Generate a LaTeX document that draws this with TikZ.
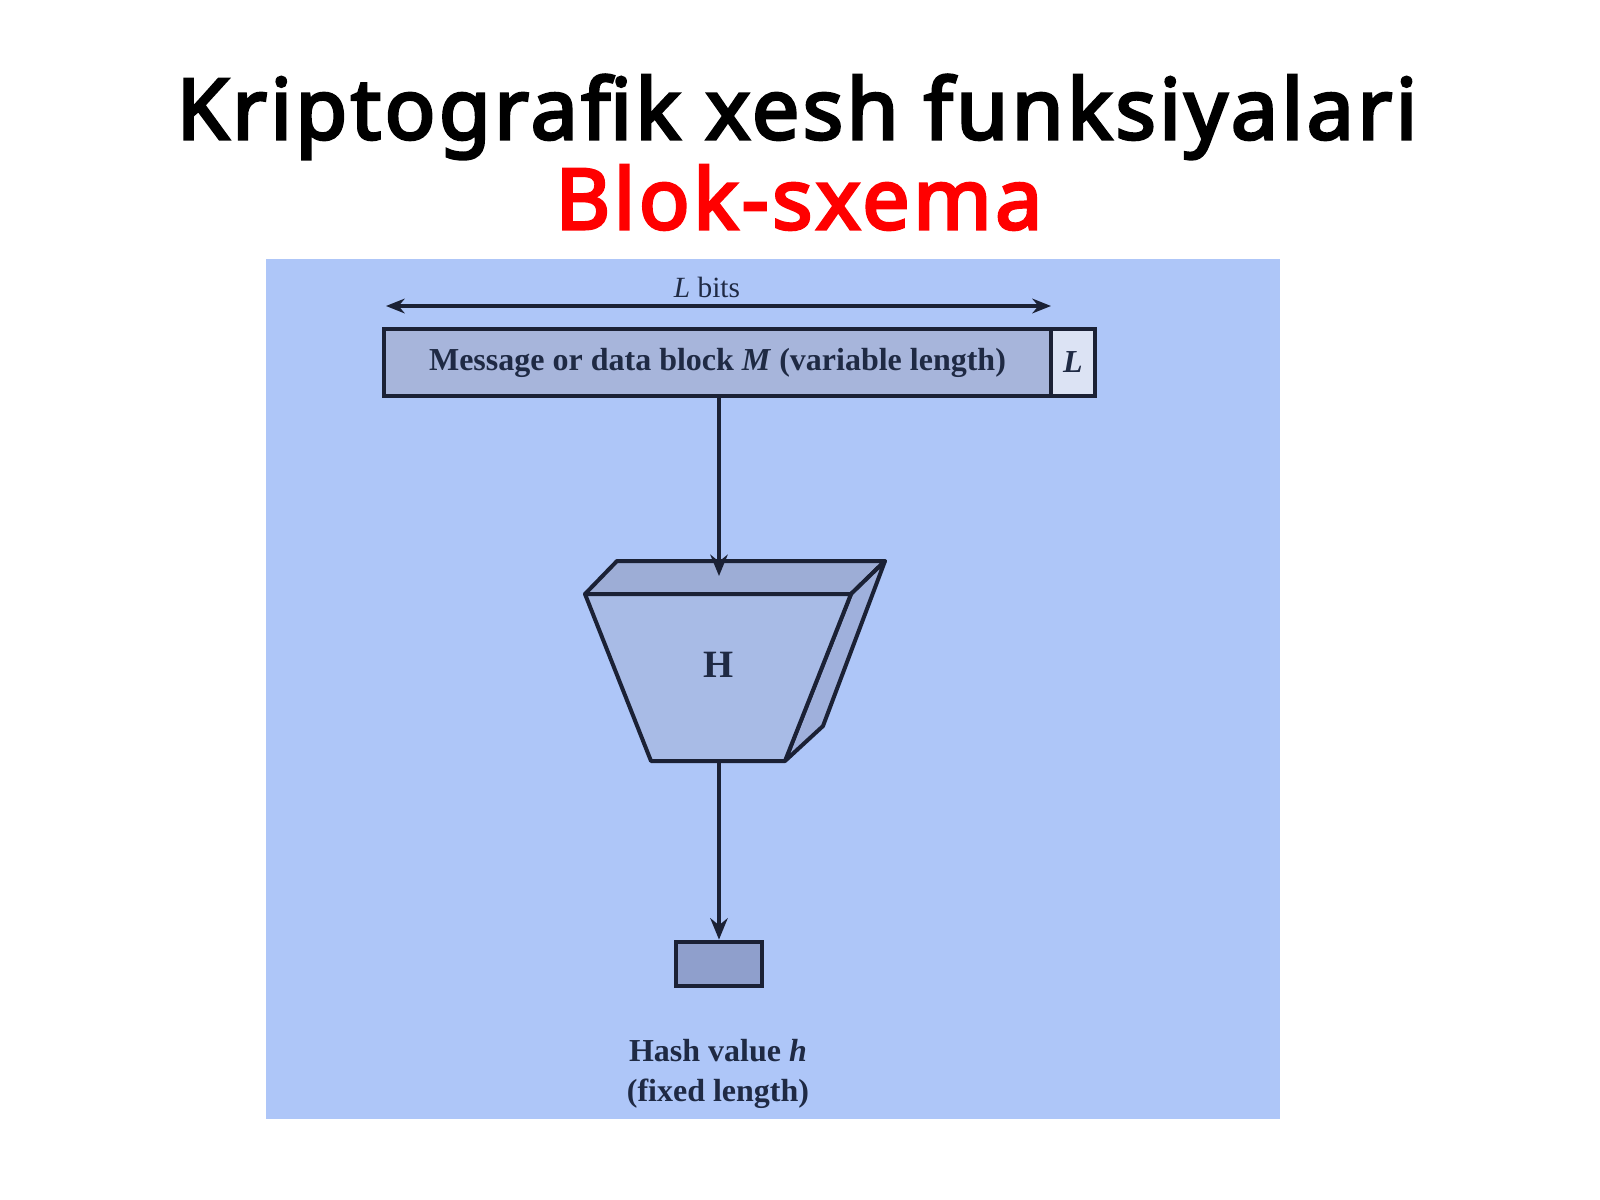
\documentclass[tikz,border=0pt]{standalone}
\usepackage{fontspec}
\setmainfont{Liberation Serif}
\newfontfamily\titlefont{Noto Sans}[FakeBold=3.6,LetterSpace=4.2]
\usetikzlibrary{arrows.meta,fit}
\definecolor{panel}{HTML}{AEC6F8}
\definecolor{msgfill}{HTML}{A7B5DB}
\definecolor{lfill}{HTML}{DCE3F4}
\definecolor{edge}{HTML}{1B2135}
\definecolor{trapfront}{HTML}{A8BBE6}
\definecolor{traptop}{HTML}{9DADD6}
\definecolor{trapside}{HTML}{9FB0DC}
\definecolor{hashfill}{HTML}{8F9FCC}
\definecolor{txt}{HTML}{1F2A44}
\definecolor{titlered}{HTML}{FF0000}
\tikzset{
  boxline/.style={draw=edge, line width=3.6pt},
  conn/.style={draw=edge, line width=2.8pt, -{Stealth[length=16pt,width=13pt]}},
  dimarrow/.style={draw=edge, line width=2.5pt, {Stealth[length=14pt,width=11pt]}-{Stealth[length=14pt,width=11pt]}},
  difftext/.style={text=txt, font=\fontsize{24}{30}\selectfont\bfseries},
}
\begin{document}
\begin{tikzpicture}[x=0.75pt,y=-0.75pt]
\useasboundingbox (0,0) rectangle (1600,1200);
\fill[white] (0,0) rectangle (1600,1200);
% titles
\node[font=\titlefont\fontsize{63}{70}\selectfont, anchor=base] (title) at (797,139) {Kriptografik xesh funksiyalari};
\node[font=\titlefont\fontsize{63}{70}\selectfont, text=titlered, anchor=base] (subtitle) at (799,229) {Blok-sxema};
% panel
\fill[panel] (266,259) rectangle (1280,1119);
% L bits dimension
\coordinate (dimL) at (386,306);
\coordinate (dimR) at (1051,306);
\draw[dimarrow] (dimL) -- (dimR);
\node[text=txt, font=\fontsize{22}{26}\selectfont, anchor=base] (lbits) at (707,297) {\textit{L} bits};
% message box
\node[fit={(384,329) (1051,396)}, inner sep=0pt, boxline, fill=msgfill] (msg) {};
\node[fit={(1051,329) (1095,396)}, inner sep=0pt, boxline, fill=lfill] (lbox) {};
\node[difftext] at (msg.center) (msgtext) {Message or data block \textit{M} (variable length)};
\node[text=txt, font=\fontsize{24}{28}\selectfont\bfseries\itshape] at (lbox.center) (ltext) {L};
% hash function trapezoid
\coordinate (bl) at (617,561);
\coordinate (br) at (885,561);
\coordinate (ftl) at (585,594);
\coordinate (ftr) at (851,594);
\coordinate (fbl) at (651,761);
\coordinate (fbr) at (785,761);
\coordinate (sbb) at (823,726);
\filldraw[fill=traptop, draw=edge, line width=3pt, line join=round] (bl) -- (br) -- (ftr) -- (ftl) -- cycle;
\filldraw[fill=trapside, draw=edge, line width=3pt, line join=round] (ftr) -- (br) -- (sbb) -- (fbr) -- cycle;
\filldraw[fill=trapfront, draw=edge, line width=3pt, line join=round] (ftl) -- (ftr) -- (fbr) -- (fbl) -- cycle;
\node[text=txt, font=\fontsize{29}{33}\selectfont\bfseries] (H) at (719,665) {H};
\coordinate (htop) at (719,576);
\coordinate (hbot) at (719,761);
% hash output box
\node[fit={(676,942) (762,986)}, inner sep=0pt, boxline, fill=hashfill] (hbox) {};
\node[difftext, align=center] (hlabel) at (718,1074) {Hash value \textit{h}\\(fixed length)};
% connectors
\draw[conn] (msg.south -| htop) -- (htop);
\draw[conn] (hbot) -- (hbox.north -| hbot);
\end{tikzpicture}
\end{document}
